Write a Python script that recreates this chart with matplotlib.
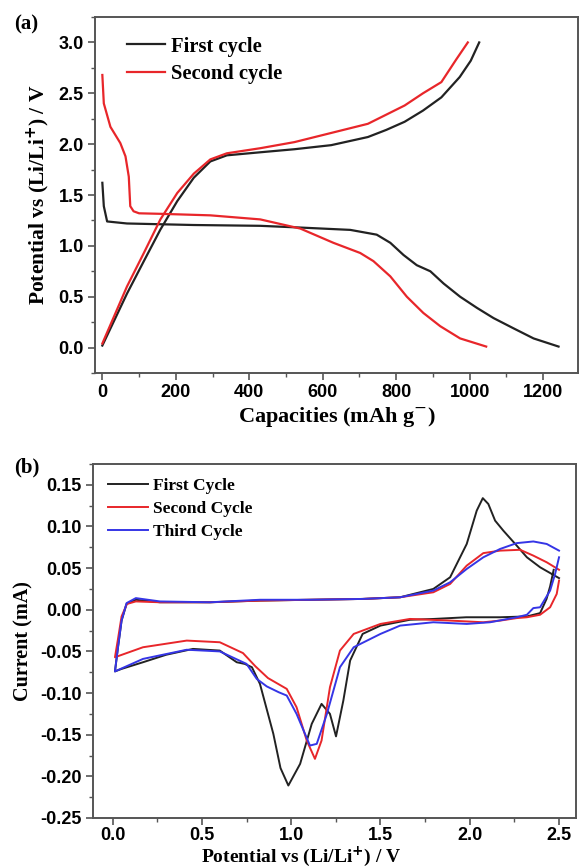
import matplotlib
matplotlib.use("Agg")
import matplotlib.pyplot as plt
from matplotlib.ticker import MultipleLocator, FormatStrFormatter

# ---------------- Panel (a): charge/discharge ----------------
first_dis_cap = [0, 4, 13, 67, 248, 430, 539, 675, 747, 784, 820, 856, 893, 929, 974, 1020, 1065, 1119, 1174, 1242]
first_dis_v = [1.62, 1.39, 1.24, 1.22, 1.205, 1.197, 1.18, 1.157, 1.11, 1.03, 0.91, 0.81, 0.75, 0.63, 0.50, 0.39, 0.29, 0.19, 0.09, 0.01]

first_chg_cap = [0, 67, 113, 158, 204, 249, 294, 339, 430, 523, 623, 723, 773, 823, 873, 923, 973, 1003, 1026]
first_chg_v = [0.02, 0.53, 0.85, 1.16, 1.44, 1.67, 1.83, 1.89, 1.92, 1.95, 1.99, 2.07, 2.14, 2.22, 2.33, 2.46, 2.66, 2.82, 3.0]

second_dis_cap = [0, 4, 22, 49, 63, 72, 76, 85, 100, 158, 294, 430, 539, 629, 702, 738, 784, 829, 874, 920, 974, 1045]
second_dis_v = [2.68, 2.40, 2.17, 2.01, 1.88, 1.68, 1.39, 1.34, 1.32, 1.315, 1.30, 1.26, 1.17, 1.03, 0.93, 0.85, 0.70, 0.50, 0.34, 0.21, 0.09, 0.01]

second_chg_cap = [0, 67, 113, 158, 204, 249, 294, 339, 430, 523, 623, 723, 773, 823, 873, 923, 963, 995]
second_chg_v = [0.04, 0.60, 0.93, 1.26, 1.52, 1.71, 1.85, 1.91, 1.96, 2.02, 2.11, 2.20, 2.29, 2.38, 2.50, 2.61, 2.83, 3.0]

# ---------------- Panel (b): cyclic voltammetry ----------------
cv1_x = [2.47, 2.45, 2.43, 2.394, 2.32, 2.17, 1.98, 1.80, 1.665, 1.50, 1.40, 1.33, 1.292, 1.251, 1.217, 1.17,
         1.115, 1.05, 0.984, 0.94, 0.90, 0.825, 0.78, 0.74, 0.695, 0.60, 0.45, 0.30, 0.17, 0.05, 0.013,
         0.03, 0.05, 0.078, 0.13, 0.265, 0.545, 0.825, 1.105, 1.4, 1.61, 1.796, 1.89, 1.983, 2.039, 2.073,
         2.104, 2.142, 2.188, 2.263, 2.32, 2.394, 2.5]
cv1_y = [0.048, 0.028, 0.013, -0.004, -0.008, -0.009, -0.009, -0.011, -0.012, -0.019, -0.029, -0.061, -0.109, -0.152, -0.125, -0.113,
         -0.137, -0.185, -0.211, -0.19, -0.149, -0.089, -0.069, -0.065, -0.063, -0.049, -0.047, -0.054, -0.063, -0.071, -0.074,
         -0.045, -0.013, 0.007, 0.012, 0.009, 0.009, 0.011, 0.012, 0.013, 0.015, 0.025, 0.039, 0.079, 0.119, 0.134,
         0.127, 0.107, 0.095, 0.077, 0.063, 0.051, 0.038]

cv2_x = [2.5, 2.487, 2.45, 2.394, 2.32, 2.263, 2.17, 2.076, 1.89, 1.665, 1.50, 1.35, 1.273, 1.217, 1.17, 1.133,
         1.087, 1.03, 0.975, 0.87, 0.80, 0.73, 0.60, 0.415, 0.17, 0.013,
         0.03, 0.05, 0.08, 0.13, 0.265, 0.545, 0.825, 1.105, 1.4, 1.61, 1.796, 1.89, 1.983, 2.076, 2.17,
         2.282, 2.356, 2.431, 2.5]
cv2_y = [0.035, 0.019, 0.003, -0.006, -0.009, -0.010, -0.013, -0.015, -0.013, -0.011, -0.017, -0.029, -0.049, -0.093, -0.157, -0.179,
         -0.157, -0.117, -0.095, -0.082, -0.068, -0.052, -0.039, -0.037, -0.045, -0.057,
         -0.035, -0.008, 0.007, 0.010, 0.009, 0.009, 0.011, 0.012, 0.013, 0.015, 0.021, 0.031, 0.053, 0.068, 0.071,
         0.072, 0.065, 0.057, 0.048]

cv3_x = [2.5, 2.478, 2.45, 2.394, 2.356, 2.32, 2.263, 2.114, 1.983, 1.796, 1.61, 1.50, 1.35, 1.273, 1.20, 1.143,
         1.105, 1.03, 0.975, 0.93, 0.863, 0.807, 0.75, 0.60, 0.415, 0.17, 0.013,
         0.03, 0.05, 0.078, 0.13, 0.265, 0.545, 0.825, 1.105, 1.4, 1.61, 1.796, 1.89, 1.983, 2.076, 2.17,
         2.263, 2.356, 2.431, 2.5]
cv3_y = [0.063, 0.043, 0.023, 0.003, 0.002, -0.006, -0.009, -0.015, -0.017, -0.015, -0.019, -0.029, -0.045, -0.069, -0.125, -0.161,
         -0.163, -0.125, -0.103, -0.099, -0.092, -0.083, -0.065, -0.050, -0.048, -0.059, -0.074,
         -0.045, -0.013, 0.008, 0.014, 0.010, 0.009, 0.012, 0.012, 0.013, 0.015, 0.023, 0.033, 0.049, 0.063, 0.073,
         0.080, 0.082, 0.079, 0.071]

BLACK = "#222222"
RED = "#e8262a"
BLUE = "#3535e6"
SPINE = "#555555"

SERIF = ["Liberation Serif", "DejaVu Serif"]
SANS = ["Liberation Sans", "DejaVu Sans"]

fig = plt.figure(figsize=(5.79, 8.68), dpi=100)

W, H = 579.0, 868.0
def box(l, r, t, b):
    return [l / W, 1 - b / H, (r - l) / W, (b - t) / H]

ax1 = fig.add_axes(box(95, 578, 17, 373))
ax2 = fig.add_axes(box(93, 576, 464, 818))

for ax in (ax1, ax2):
    for sp in ax.spines.values():
        sp.set_color(SPINE)
        sp.set_linewidth(1.4)
    ax.tick_params(which="major", direction="out", length=5, width=1.2, color=SPINE, pad=3)
    ax.tick_params(which="minor", direction="out", length=3, width=1.0, color=SPINE)
ax2.tick_params(axis="x", which="major", pad=1.5)

# Panel (a)
ax1.plot(first_dis_cap, first_dis_v, color=BLACK, lw=1.6, label="First cycle")
ax1.plot(first_chg_cap, first_chg_v, color=BLACK, lw=1.6)
ax1.plot(second_dis_cap, second_dis_v, color=RED, lw=1.6, label="Second cycle")
ax1.plot(second_chg_cap, second_chg_v, color=RED, lw=1.6)
ax1.set_xlim(-20, 1295)
ax1.set_ylim(-0.25, 3.25)
ax1.xaxis.set_major_locator(MultipleLocator(200))
ax1.xaxis.set_minor_locator(MultipleLocator(100))
ax1.yaxis.set_minor_locator(MultipleLocator(0.25))
ax1.set_yticks([0.0, 0.5, 1.0, 1.5, 2.0, 2.5, 3.0])
ax1.yaxis.set_major_formatter(FormatStrFormatter("%.1f"))
ax1.set_xlabel("Capacities (mAh g$^{\\mathrm{-}}$)", fontsize=16, fontweight="bold", family=SERIF, labelpad=3)
ax1.set_ylabel("Potential vs (Li/Li$^{\\mathbf{+}}$) / V", fontsize=15.5, fontweight="bold", family=SERIF, labelpad=5)
ax1.legend(loc="upper left", bbox_to_anchor=(0.066, 0.945), frameon=False, borderpad=0, borderaxespad=0,
           handlelength=1.85, handletextpad=0.3, labelspacing=0.35,
           prop={"family": SERIF, "weight": "bold", "size": 14.8})
ax1.text(-0.168, 0.978, "(a)", transform=ax1.transAxes, fontsize=15, fontweight="bold", family=SERIF,
         ha="left", va="center")

# Panel (b)
ax2.plot(cv1_x, cv1_y, color=BLACK, lw=1.4, label="First Cycle")
ax2.plot(cv2_x, cv2_y, color=RED, lw=1.4, label="Second Cycle")
ax2.plot(cv3_x, cv3_y, color=BLUE, lw=1.4, label="Third Cycle")
ax2.set_xlim(-0.11, 2.595)
ax2.set_ylim(-0.25, 0.175)
ax2.xaxis.set_major_locator(MultipleLocator(0.5))
ax2.xaxis.set_minor_locator(MultipleLocator(0.25))
ax2.yaxis.set_minor_locator(MultipleLocator(0.025))
ax2.set_yticks([-0.25, -0.20, -0.15, -0.10, -0.05, 0.0, 0.05, 0.10, 0.15])
ax2.yaxis.set_major_formatter(FormatStrFormatter("%.2f"))
ax2.xaxis.set_major_formatter(FormatStrFormatter("%.1f"))
ax2.set_xlabel("Potential vs (Li/Li$^{\\mathbf{+}}$) / V", fontsize=14, fontweight="bold", family=SERIF)
ax2.xaxis.set_label_coords(0.43, -0.074)
ax2.set_ylabel("Current (mA)", fontsize=14.5, fontweight="bold", family=SERIF, labelpad=5)
ax2.legend(loc="upper left", bbox_to_anchor=(0.031, 0.962), frameon=False, borderpad=0, borderaxespad=0,
           handlelength=2.3, handletextpad=0.3, labelspacing=0.4,
           prop={"family": SERIF, "weight": "bold", "size": 12.5})
ax2.text(-0.163, 0.99, "(b)", transform=ax2.transAxes, fontsize=15, fontweight="bold", family=SERIF,
         ha="left", va="center")

for ax in (ax1, ax2):
    for lab in ax.get_xticklabels() + ax.get_yticklabels():
        lab.set_fontfamily(SANS)
        lab.set_fontweight("bold")
        lab.set_fontsize(13)

fig.savefig("out.png", dpi=100)
